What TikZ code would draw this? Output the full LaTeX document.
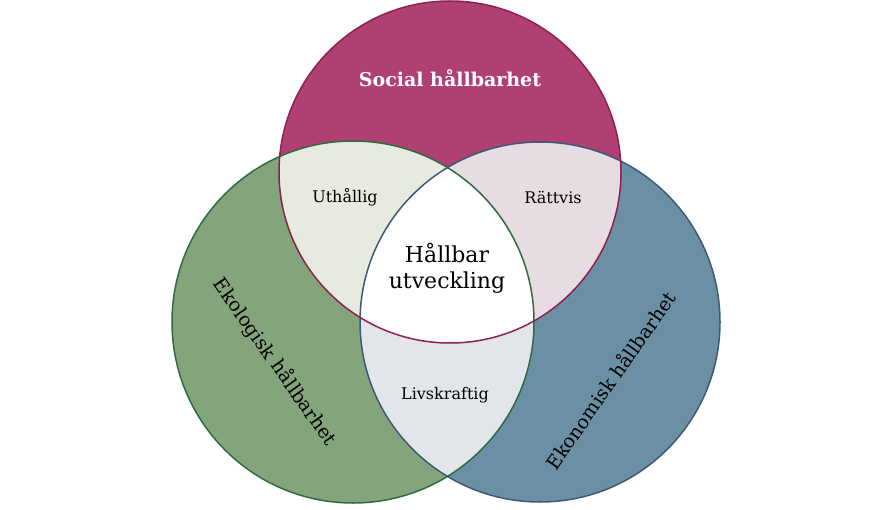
\documentclass[tikz,border=0pt]{standalone}
\usepackage{fontspec}
\setmainfont{DejaVu Serif}
\definecolor{socf}{HTML}{B03F74}\definecolor{socd}{HTML}{8B2252}
\definecolor{ekof}{HTML}{84A57C}\definecolor{ekod}{HTML}{2E6B3E}
\definecolor{ekn}{HTML}{6B90A5}\definecolor{eknd}{HTML}{3C5A75}
\definecolor{tl}{HTML}{E6EADF}\definecolor{tr}{HTML}{E8DCE3}\definecolor{bm}{HTML}{E2E6EA}
\begin{document}
\begin{tikzpicture}[x=1pt,y=-1pt,
  lbl/.style={font=\fontsize{16}{19}\selectfont},
  big/.style={font=\fontsize{22}{26}\selectfont}]
\useasboundingbox (0,0) rectangle (890,510);
\def\circS{(450,172) circle[radius=171]}
\def\circL{(353,322) circle[radius=181]}
\def\circR{(540,322) circle[radius=180]}
\fill[socf] \circS;
\fill[ekof] \circL;
\fill[ekn] \circR;
\begin{scope}\clip \circS; \fill[tl] \circL; \fill[tr] \circR; \end{scope}
\begin{scope}\clip \circL; \fill[bm] \circR; \end{scope}
\begin{scope}\clip \circS; \clip \circL; \fill[white] \circR; \end{scope}
\draw[eknd,line width=1.5pt] \circR;
\draw[ekod,line width=1.5pt] \circL;
\draw[socd,line width=1.5pt] \circS;
\node[text=white,font=\fontsize{19}{22}\selectfont\bfseries] (s) at (450,78) {Social hållbarhet};
\node[big,align=center] (c) at (447,268) {Hållbar\\utveckling};
\node[lbl] (u) at (345,197) {Uthållig};
\node[lbl] (r) at (553,197) {Rättvis};
\node[lbl] (l) at (445,395) {Livskraftig};
\node[rotate=-55,font=\fontsize{19}{22}\selectfont] (e1) at (275,362) {Ekologisk hållbarhet};
\node[rotate=55,font=\fontsize{19}{22}\selectfont] (e2) at (610,380) {Ekonomisk hållbarhet};
\end{tikzpicture}
\end{document}
